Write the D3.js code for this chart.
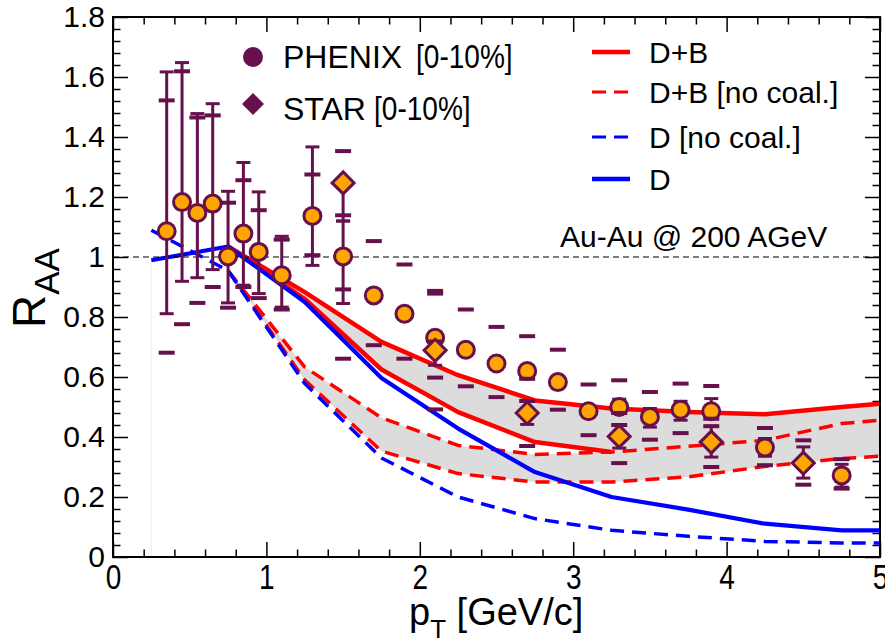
<!DOCTYPE html>
<html>
<head>
<meta charset="utf-8">
<style>
    body { margin: 0; background: #fff; }
    svg text { font-family: "Liberation Sans", Arial, sans-serif; }
</style>
</head>
<body>
<script src="https://cdn.jsdelivr.net/npm/d3@7"></script>
<script>
    // axis ticks
    var xTicks = [0, 1, 2, 3, 4, 5];
    var yTicks = [0, 0.2, 0.4, 0.6, 0.8, 1, 1.2, 1.4, 1.6, 1.8];

    // model curves, R_AA on a common pT grid (null = not drawn)
    var ptGrid = [0.25, 0.75, 1.25, 1.75, 2.25, 2.75, 3.25, 3.75, 4.25, 4.75, 5.0];
    var dCoal = [0.989, 1.035, 0.85, 0.597, 0.428, 0.283, 0.20, 0.158, 0.111, 0.089, 0.089];
    var dNoCoal = [1.089, 0.955, 0.578, 0.33, 0.20, 0.128, 0.089, 0.069, 0.052, 0.047, 0.047];
    var dbUpper = [null, 1.035, 0.883, 0.717, 0.606, 0.522, 0.495, 0.483, 0.476, 0.50, 0.511];
    var dbLower = [null, 1.035, 0.86, 0.625, 0.483, 0.383, 0.35, null, null, null, null];
    var dbNcUpper = [null, 0.955, 0.633, 0.464, 0.372, 0.342, 0.35, 0.369, 0.389, 0.445, 0.456];
    var dbNcLower = [null, 0.955, 0.59, 0.353, 0.278, 0.25, 0.25, 0.267, 0.302, 0.328, 0.336];

    // PHENIX 0-10%
    var phenixPt = [0.35, 0.45, 0.55, 0.65, 0.75, 0.85, 0.95, 1.1, 1.3, 1.5, 1.7, 1.9, 2.1, 2.3, 2.5, 2.7, 2.9, 3.1, 3.3, 3.5, 3.7, 3.9, 4.25, 4.75];
    var phenixRaa = [1.086, 1.183, 1.147, 1.178, 1.002, 1.078, 1.017, 0.939, 1.137, 1.002, 0.872, 0.811, 0.731, 0.691, 0.645, 0.62, 0.583, 0.486, 0.50, 0.467, 0.491, 0.486, 0.365, 0.272];
    var phenixStatHi = [1.617, 1.648, 1.478, 1.511, 1.219, 1.315, 1.217, 1.069, 1.367, 1.12, 0.872, 0.811, 0.75, 0.691, 0.645, 0.62, 0.583, 0.486, 0.526, 0.495, 0.519, 0.528, 0.395, 0.309];
    var phenixStatLo = [0.811, 0.919, 0.931, 0.958, 0.847, 0.906, 0.878, 0.833, 0.972, 0.845, 0.872, 0.811, 0.71, 0.691, 0.645, 0.595, 0.583, 0.486, 0.48, 0.433, 0.456, 0.461, 0.336, 0.233];
    var phenixSysHi = [1.522, 1.619, 1.465, 1.472, 1.181, 1.256, 1.156, 1.058, 1.275, 1.139, 1.053, 0.975, 0.887, 0.825, 0.767, 0.736, 0.691, 0.575, 0.589, 0.55, 0.578, 0.57, 0.43, 0.326];
    var phenixSysLo = [0.681, 0.776, 0.847, 0.90, 0.831, 0.90, 0.863, 0.825, 1.006, 0.661, 0.706, 0.661, 0.598, 0.569, 0.533, 0.52, 0.491, 0.406, 0.44, 0.391, 0.413, 0.436, 0.306, 0.228];

    // STAR 0-10%
    var starPt = [1.5, 2.1, 2.7, 3.3, 3.9, 4.5];
    var starRaa = [1.247, 0.689, 0.48, 0.402, 0.383, 0.313];
    var starStatHi = [1.247, 0.72, 0.522, 0.439, 0.436, 0.367];
    var starStatLo = [1.12, 0.639, 0.442, 0.363, 0.333, 0.263];
    var starSysHi = [1.353, 0.878, 0.594, 0.48, 0.461, 0.389];
    var starSysLo = [0.892, 0.492, 0.37, 0.313, 0.30, 0.241];

    var width = 885, height = 642;
    var frame = { left: 113, top: 17, right: 880, bottom: 557 };
    var dataColor = '#66104c', orange = '#ffa500';

    var xScale = d3.scaleLinear().domain([0, 5]).range([frame.left, frame.right]);
    var yScale = d3.scaleLinear().domain([0, 1.8]).range([frame.bottom, frame.top]);

    var svg = d3.select('body').append('svg')
        .attr('width', width)
        .attr('height', height);

    // --- axes, ticks on all four sides pointing in ---
    var xMinor = d3.range(0, 5.001, 0.2).filter(function (v) { return Math.abs(v - Math.round(v)) > 1e-6; });
    var yMinor = d3.range(0, 1.8001, 0.04).filter(function (v) { return Math.abs(v * 5 - Math.round(v * 5)) > 1e-6; });

    function addAxis(axis, tx, ty) {
        var g = svg.append('g')
            .attr('transform', 'translate(' + tx + ',' + ty + ')')
            .call(axis);
        g.select('.domain').remove();
        g.selectAll('.tick line').attr('stroke', 'black').attr('stroke-width', 1.5);
        return g;
    }
    var noLabel = function () { return ''; };

    var xAxisG = addAxis(d3.axisBottom(xScale).tickValues(xTicks).tickSize(-15).tickPadding(7)
        .tickFormat(d3.format('d')), 0, frame.bottom);
    xAxisG.attr('font-size', null).attr('font-family', null);
    // condensed look of the bottom labels
    xAxisG.selectAll('text').attr('font-size', 35).attr('fill', 'black')
        .attr('transform', 'scale(0.8,1)');
    addAxis(d3.axisBottom(xScale).tickValues(xMinor).tickSize(-7.5).tickFormat(noLabel), 0, frame.bottom);
    addAxis(d3.axisTop(xScale).tickValues(xTicks).tickSize(-15).tickFormat(noLabel), 0, frame.top);
    addAxis(d3.axisTop(xScale).tickValues(xMinor).tickSize(-7.5).tickFormat(noLabel), 0, frame.top);

    var yAxisG = addAxis(d3.axisLeft(yScale).tickValues(yTicks).tickSize(-15).tickPadding(8)
        .tickFormat(function (d) { return String(+d.toFixed(1)); }), frame.left, 0);
    yAxisG.attr('font-size', null).attr('font-family', null);
    yAxisG.selectAll('text').attr('font-size', 30).attr('fill', 'black');
    addAxis(d3.axisLeft(yScale).tickValues(yMinor).tickSize(-7.5).tickFormat(noLabel), frame.left, 0);
    addAxis(d3.axisRight(yScale).tickValues(yTicks).tickSize(-15).tickFormat(noLabel), frame.right, 0);
    addAxis(d3.axisRight(yScale).tickValues(yMinor).tickSize(-7.5).tickFormat(noLabel), frame.right, 0);

    // --- model bands ---
    var model = ptGrid.map(function (pt, i) {
        return {
            pt: pt, d: dCoal[i], dnc: dNoCoal[i],
            up: dbUpper[i], lo: dbLower[i] != null ? dbLower[i] : dbNcUpper[i],
            ncUp: dbNcUpper[i], ncLo: dbNcLower[i], solidLo: dbLower[i]
        };
    });

    var bandA = d3.area()
        .defined(function (d) { return d.up != null; })
        .x(function (d) { return xScale(d.pt); })
        .y0(function (d) { return yScale(d.lo); })
        .y1(function (d) { return yScale(d.up); });
    var bandB = d3.area()
        .defined(function (d) { return d.ncUp != null; })
        .x(function (d) { return xScale(d.pt); })
        .y0(function (d) { return yScale(d.ncLo); })
        .y1(function (d) { return yScale(d.ncUp); });
    svg.append('path').attr('d', bandA(model)).attr('fill', '#dcdcdc');
    svg.append('path').attr('d', bandB(model)).attr('fill', '#dcdcdc');

    // faint edge at the first grid point
    svg.append('line')
        .attr('x1', xScale(ptGrid[0])).attr('x2', xScale(ptGrid[0]))
        .attr('y1', yScale(dCoal[0])).attr('y2', yScale(0))
        .attr('stroke', '#f3eef0').attr('stroke-width', 1);

    function curve(key, color, w, dash) {
        var line = d3.line()
            .defined(function (d) { return d[key] != null; })
            .x(function (d) { return xScale(d.pt); })
            .y(function (d) { return yScale(d[key]); });
        svg.append('path')
            .attr('d', line(model))
            .attr('fill', 'none')
            .attr('stroke', color)
            .attr('stroke-width', w)
            .attr('stroke-dasharray', dash)
            .attr('stroke-linejoin', 'round');
    }
    curve('ncUp', 'red', 3.5, '14,8');
    curve('ncLo', 'red', 3.5, '14,8');
    curve('dnc', 'blue', 3.5, '14,8');
    curve('up', 'red', 4.5, null);
    curve('solidLo', 'red', 4.5, null);
    curve('d', 'blue', 4.2, null);

    // R_AA = 1 reference
    svg.append('line')
        .attr('x1', frame.left).attr('x2', frame.right)
        .attr('y1', yScale(1)).attr('y2', yScale(1))
        .attr('stroke', 'black').attr('stroke-width', 1.2)
        .attr('stroke-dasharray', '6,4');

    // --- data points with stat bars and sys dashes ---
    function drawSet(pts, raa, sHi, sLo, yHi, yLo) {
        var g = svg.append('g');
        pts.forEach(function (pt, i) {
            var x = xScale(pt);
            if (sHi[i] !== sLo[i]) {
                g.append('line')
                    .attr('x1', x).attr('x2', x)
                    .attr('y1', yScale(sHi[i])).attr('y2', yScale(sLo[i]))
                    .attr('stroke', dataColor).attr('stroke-width', 3);
            }
            [sHi[i], sLo[i]].forEach(function (v) {
                if (Math.abs(v - raa[i]) < 1e-6) return;
                g.append('line')
                    .attr('x1', x - 7).attr('x2', x + 7)
                    .attr('y1', yScale(v)).attr('y2', yScale(v))
                    .attr('stroke', dataColor).attr('stroke-width', 3);
            });
            [yHi[i], yLo[i]].forEach(function (v) {
                g.append('line')
                    .attr('x1', x - 8).attr('x2', x + 8)
                    .attr('y1', yScale(v)).attr('y2', yScale(v))
                    .attr('stroke', dataColor).attr('stroke-width', 4);
            });
        });
        return g;
    }
    var diamond = 'M0,-11L11,0L0,11L-11,0Z';

    var phenixG = drawSet(phenixPt, phenixRaa, phenixStatHi, phenixStatLo, phenixSysHi, phenixSysLo);
    var starG = drawSet(starPt, starRaa, starStatHi, starStatLo, starSysHi, starSysLo);

    starG.selectAll('path.pt')
        .data(starPt)
        .enter()
        .append('path')
        .attr('class', 'pt')
        .attr('d', diamond)
        .attr('transform', function (d, i) { return 'translate(' + xScale(d) + ',' + yScale(starRaa[i]) + ')'; })
        .attr('fill', orange).attr('stroke', dataColor).attr('stroke-width', 3);

    phenixG.selectAll('circle')
        .data(phenixPt)
        .enter()
        .append('circle')
        .attr('cx', function (d) { return xScale(d); })
        .attr('cy', function (d, i) { return yScale(phenixRaa[i]); })
        .attr('r', 8.5)
        .attr('fill', orange).attr('stroke', dataColor).attr('stroke-width', 3);

    // frame
    svg.append('rect')
        .attr('x', frame.left).attr('y', frame.top)
        .attr('width', frame.right - frame.left).attr('height', frame.bottom - frame.top)
        .attr('fill', 'none').attr('stroke', 'black').attr('stroke-width', 2);

    // --- axis titles ---
    var xt = svg.append('text').attr('x', 409).attr('y', 625).attr('font-size', 38);
    xt.append('tspan').text('p');
    xt.append('tspan').attr('font-size', 26).attr('dy', 13).text('T');
    xt.append('tspan').attr('dy', -13).text(' [GeV/c]');

    var yt = svg.append('text').attr('transform', 'translate(45,328) rotate(-90)').attr('font-size', 46);
    yt.append('tspan').text('R');
    yt.append('tspan').attr('font-size', 35).attr('dy', 14).text('AA');

    // --- legends ---
    svg.append('circle').attr('cx', 253).attr('cy', 57).attr('r', 10).attr('fill', dataColor);
    svg.append('path').attr('d', diamond).attr('transform', 'translate(253,104)').attr('fill', dataColor);
    svg.append('text').attr('x', 283).attr('y', 68).attr('font-size', 32).text('PHENIX');
    svg.append('text').attr('transform', 'translate(416,68) scale(0.85,1)').attr('font-size', 33).text('[0-10%]');
    svg.append('text').attr('x', 283).attr('y', 120).attr('font-size', 32).text('STAR');
    svg.append('text').attr('transform', 'translate(374,120) scale(0.85,1)').attr('font-size', 33).text('[0-10%]');

    var legendRows = [
        { label: 'D+B', color: 'red', dash: null, w: 4.5, y: 52 },
        { label: 'D+B [no coal.]', color: 'red', dash: '14,8', w: 3, y: 92 },
        { label: 'D [no coal.]', color: 'blue', dash: '14,8', w: 3, y: 137 },
        { label: 'D', color: 'blue', dash: null, w: 4.5, y: 179 }
    ];
    legendRows.forEach(function (r) {
        svg.append('line')
            .attr('x1', 592).attr('x2', 630).attr('y1', r.y).attr('y2', r.y)
            .attr('stroke', r.color).attr('stroke-width', r.w)
            .attr('stroke-dasharray', r.dash);
        svg.append('text').attr('x', 649).attr('y', r.y + 11).attr('font-size', 30).text(r.label);
    });

    svg.append('text').attr('x', 560).attr('y', 247).attr('font-size', 30).text('Au-Au @ 200 AGeV');
</script>
</body>
</html>
